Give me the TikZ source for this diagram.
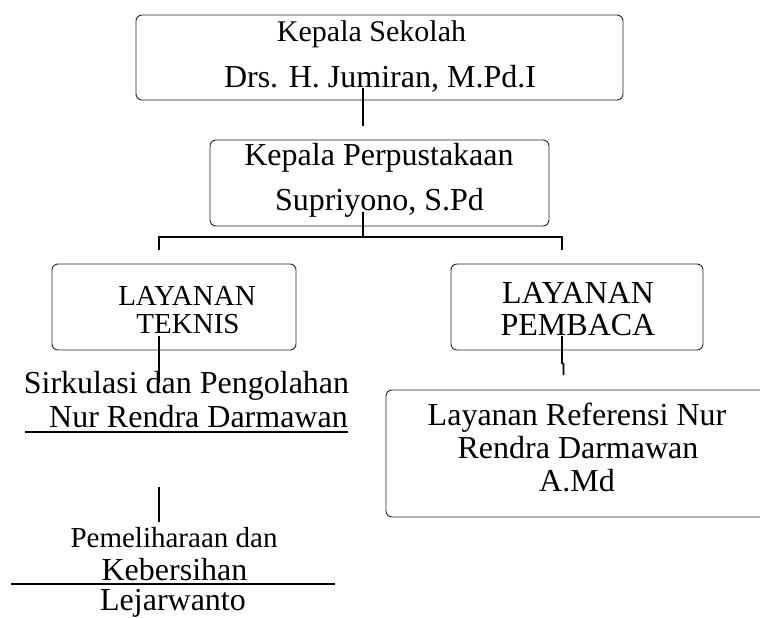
\documentclass[tikz,border=0pt]{standalone}
\usepackage{fontspec}
\setmainfont{Liberation Serif}
\begin{document}
\begin{tikzpicture}[x=1pt,y=-1pt,
  box/.style={draw=black!85, line width=0.9pt, rounded corners=6pt, inner sep=0pt},
  lbl/.style={anchor=base, inner sep=0pt, font=\fontsize{32}{38}\selectfont},
  lblm/.style={anchor=base, inner sep=0pt, font=\fontsize{30}{36}\selectfont},
  lbls/.style={anchor=base, inner sep=0pt, font=\fontsize{29}{34}\selectfont},
  conn/.style={line width=1.6pt},
  bar/.style={line width=1.4pt}
]
\useasboundingbox (0,0) rectangle (760,618);

% boxes
\node[box, minimum width=487pt, minimum height=85pt] (ks) at (379.5,57.5) {};
\node[box, minimum width=339pt, minimum height=86pt] (kp) at (379.5,183) {};
\node[box, minimum width=244pt, minimum height=86pt] (lt) at (174,307) {};
\node[box, minimum width=252pt, minimum height=86pt] (lp) at (577,307) {};
\begin{scope}
  \clip (0,0) rectangle (760,618);
  \node[box, minimum width=382pt, minimum height=127pt] (lr) at (577,453.5) {};
\end{scope}

% texts
\node[lblm] (ks1) at (371.5,42) {Kepala Sekolah};
\node[lbl] (ks2) at (380,88) {Drs. H. Jumiran, M.Pd.I};
\node[lbl] (kp1) at (379,165) {Kepala Perpustakaan};
\node[lbl] (kp2) at (379.5,210) {Supriyono, S.Pd};
\node[lbls] (lt1) at (187,305) {LAYANAN};
\node[lbls] (lt2) at (188,333) {TEKNIS};
\node[lbl] (lp1) at (578,303) {LAYANAN};
\node[lbl] (lp2) at (578,335) {PEMBACA};
\node[lbl] (sk1) at (186.5,393) {Sirkulasi dan Pengolahan};
\node[lbl] (sk2) at (198.5,427) {Nur Rendra Darmawan};
\node[lbls] (pm1) at (174,547) {Pemeliharaan dan};
\node[lbl] (pm2) at (174.5,580) {Kebersihan};
\node[lbl] (pm3) at (173,610) {Lejarwanto};
\node[lbl] (lr1) at (577,425) {Layanan Referensi Nur};
\node[lbl] (lr2) at (578,458) {Rendra Darmawan};
\node[lbl] (lr3) at (577,491) {A.Md};

% connector points
\coordinate (ksd) at (363,88);
\coordinate (kse) at (363,126);
\coordinate (kpd) at (363,212);
\coordinate (brc) at (363,237);
\coordinate (brl) at (159,237);
\coordinate (brr) at (562,237);
\coordinate (brle) at (159,250);
\coordinate (brre) at (562,250);
\coordinate (ltd) at (159,336);
\coordinate (lte) at (159,383);
\coordinate (gpa) at (159,487);
\coordinate (gpb) at (159,522);
\coordinate (lpd) at (562,336);
\coordinate (lpj1) at (562,363);
\coordinate (lpj2) at (563.5,364);
\coordinate (lpe) at (563.5,375);
\coordinate (ul1) at (25,432);
\coordinate (ul2) at (348,432);
\coordinate (ln1) at (11,584);
\coordinate (ln2) at (335,584);

% connectors
\draw[conn] (ksd) -- (kse);
\draw[conn] (kpd) -- (brc);
\draw[conn] (brle) -- (brl) -- (brr) -- (brre);
\draw[conn] (ltd) -- (lte);
\draw[conn] (gpa) -- (gpb);
\draw[conn] (lpd) -- (lpj1) -- (lpj2) -- (lpe);
\draw[bar] (ul1) -- (ul2);
\draw[bar] (ln1) -- (ln2);
\end{tikzpicture}
\end{document}
